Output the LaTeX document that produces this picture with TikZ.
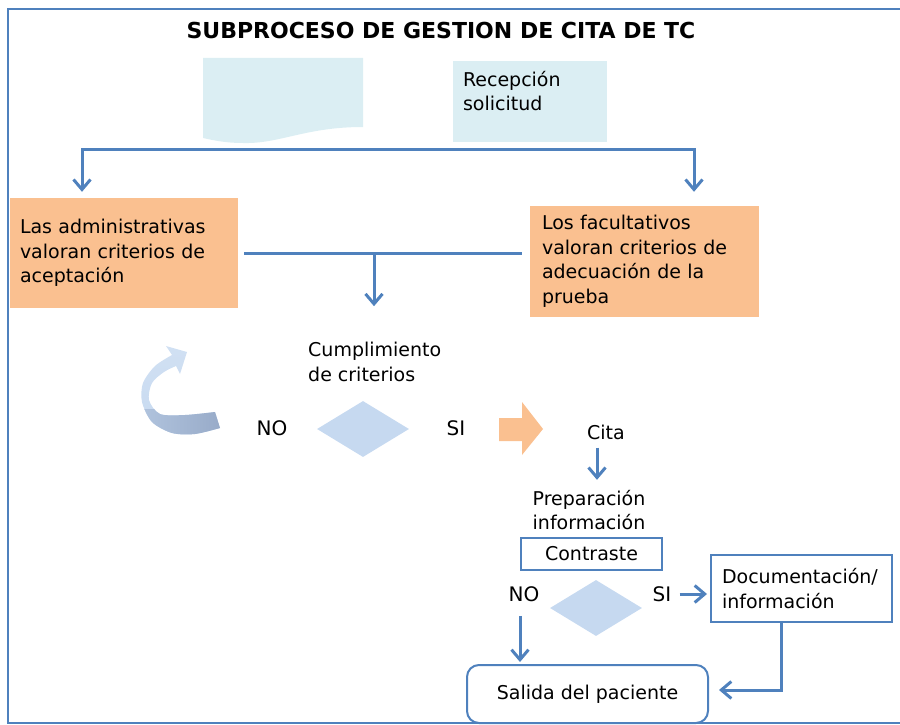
\documentclass[tikz,border=0pt]{standalone}
\usepackage{fontspec}
\setmainfont{DejaVu Sans}
\usetikzlibrary{arrows.meta,shapes.geometric,positioning}

\definecolor{lineblue}{RGB}{79,129,189}
\definecolor{boxorange}{RGB}{250,192,144}
\definecolor{paleblue}{RGB}{219,238,243}
\definecolor{decblue}{RGB}{198,217,240}
\definecolor{loopdark}{RGB}{149,168,198}

\begin{document}
\begin{tikzpicture}[x=1pt,y=-1pt,
	font=\fontsize{19}{24.5}\selectfont,
	link/.style={draw=lineblue, line width=3pt, line cap=rect},
	flow/.style={draw=lineblue, line width=3pt, -{Straight Barb[length=10pt,width=17pt]}},
	critbox/.style={fill=boxorange, align=left, inner ysep=0pt},
	outbox/.style={draw=lineblue, line width=2pt, inner sep=0pt},
	decision/.style={diamond, fill=decblue, minimum width=92pt, minimum height=56pt, inner sep=0pt},
	lbl/.style={inner sep=0pt, align=left},
	yesno/.style={inner sep=0pt, font=\fontsize{20}{24}\selectfont}]

	\useasboundingbox (0,0) rectangle (900,725);
	\draw[lineblue, line width=2pt] (910,9) -- (8,9) -- (8,723) -- (910,723);

	\node[lbl, font=\fontsize{22}{26}\selectfont\bfseries] (title) at (441,30) {SUBPROCESO DE GESTION DE CITA DE TC};

	% documento y recepcion
	\fill[paleblue] (203,58) -- (363,58) -- (363,127) .. controls (305,127) and (280,144) .. (243,143) .. controls (225,143) and (212,140) .. (203,138) -- cycle;
	\node[fill=paleblue, minimum width=154pt, minimum height=81pt, inner sep=0pt] (recep) at (530,101.5) {};
	\node[lbl, anchor=north west] (recepText) at ([shift={(10pt,-10pt)}]recep.north west) {Recepción\\solicitud};

	\node[critbox, inner xsep=10pt, text width=208pt, minimum height=110pt] (admin) at (124,253) {Las administrativas\\valoran criterios de\\aceptación};
	\node[critbox, inner xsep=12pt, text width=205pt, minimum height=111pt] (fac) at (644.5,261.5) {Los facultativos\\valoran criterios de\\adecuación de la\\prueba};

	\coordinate (splitL) at (82,149);
	\coordinate (splitR) at (694,149);
	\draw[link] (splitL) -- (splitR);
	\draw[flow, shorten >=6pt] (splitL) -- (splitL |- admin.north);
	\draw[flow, shorten >=14pt] (splitR) -- (splitR |- fac.north);

	% criterios
	\node[lbl, anchor=west] (crit) at (308,362) {Cumplimiento\\de criterios};
	\coordinate (joinL) at ([xshift=7pt]admin.east);
	\coordinate (joinR) at ([xshift=-9pt]fac.west |- joinL);
	\coordinate (joinM) at (374,253);
	\draw[link] (joinL) -- (joinR);
	\draw[flow, shorten >=36pt] (joinM) -- (joinM |- crit.north);

	% flecha de vuelta
	\begin{scope}
		\clip (215,412) -- plot[smooth] coordinates {(215,412) (185,415) (160,414) (149,400) (152,383) (164,372) (176,366)} -- (180,374) -- (187,352) -- (166,346) -- plot[smooth] coordinates {(172,355) (155,366) (143,383) (142,402) (152,422) (172,433) (195,434) (220,428)} -- cycle;
		\shade[top color=decblue!80!white, bottom color=decblue] (135,340) rectangle (230,440);
		\shade[left color=decblue!60!loopdark, right color=loopdark] (135,409) -- (230,409) -- (230,440) -- (135,440) -- cycle;
	\end{scope}

	\node[decision] (dec1) at (363,429) {};
	\node[yesno] (no1) at (272,428) {NO};
	\node[yesno] (si1) at (456,428) {SI};
	\fill[boxorange] (499,418) -- (522,418) -- (522,402) -- (543,429) -- (522,455) -- (522,441) -- (499,441) -- cycle;

	% cita
	\node[lbl] (cita) at (606,432) {Cita};
	\node[lbl, align=center] (prep) at (589,510) {Preparación\\información};
	\draw[flow, shorten <=8pt, shorten >=10pt] (cita.south -| 597,0) -- (prep.north -| 597,0);

	\node[outbox, minimum width=141pt, minimum height=32pt] (contr) at (591.5,554) {Contraste};
	\node[decision] (dec2) at (596,608) {};
	\node[yesno] (no2) at (524,594) {NO};
	\node[yesno] (si2) at (662,594) {SI};
	\node[outbox, inner xsep=11pt, text width=159pt, minimum height=67pt, align=left] (docu) at (801.5,588.5) {Documentación/\\información};
	\node[outbox, rounded corners=12pt, minimum width=241pt, minimum height=58pt] (salida) at (587.5,694) {Salida del paciente};

	\draw[flow, shorten <=8pt, shorten >=3pt] (si2.east) -- (si2.east -| docu.west);
	\draw[flow, shorten <=14pt, shorten >=2pt] ([xshift=-4pt]no2.south) -- ([xshift=-4pt]no2.south |- salida.north);
	\draw[flow, shorten >=10pt] ([xshift=-20.5pt]docu.south) |- ([yshift=4pt]salida.east);

\end{tikzpicture}
\end{document}
